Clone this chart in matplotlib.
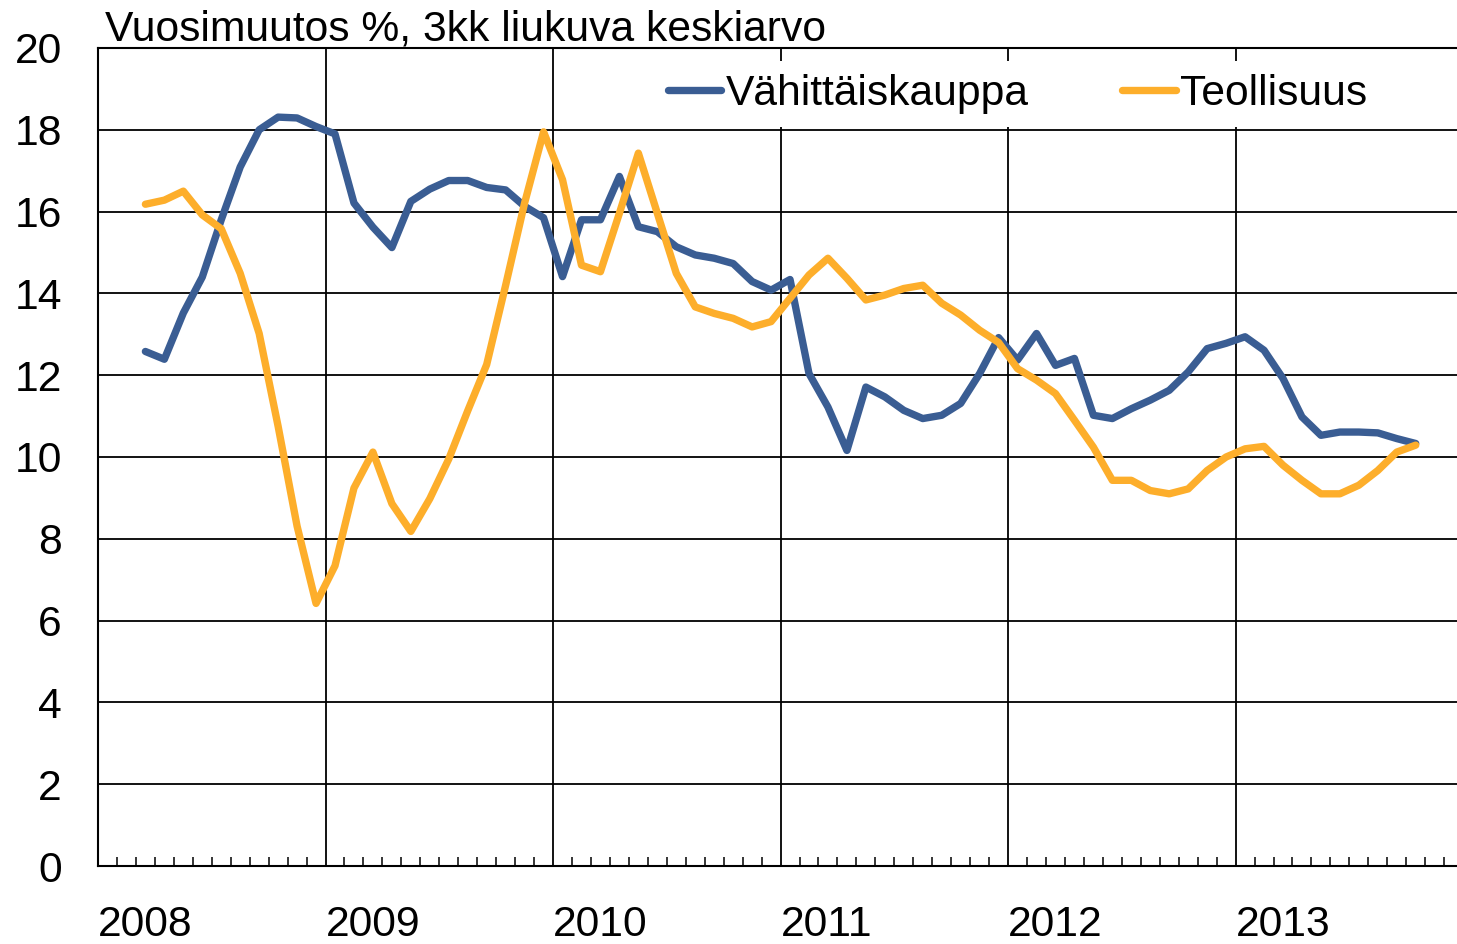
import matplotlib
matplotlib.use("Agg")
import matplotlib.pyplot as plt
import pandas as pd

plt.rcParams['font.family'] = ['Liberation Sans', 'DejaVu Sans']

# monthly 3-month moving average, Mar 2008 - Oct 2013
months = pd.period_range('2008-03', '2013-10', freq='M')

vahittaiskauppa = [
    12.58, 12.39, 13.52, 14.40, 15.80, 17.09, 18.00, 18.31, 18.29, 18.08,
    17.90, 16.21, 15.62, 15.12, 16.25, 16.55, 16.76, 16.76, 16.59, 16.53,
    16.13, 15.85, 14.41, 15.80, 15.80, 16.86, 15.63, 15.51, 15.14, 14.94,
    14.86, 14.73, 14.29, 14.08, 14.34, 12.04, 11.22, 10.16, 11.71, 11.47,
    11.14, 10.94, 11.02, 11.31, 12.04, 12.92, 12.37, 13.02, 12.24, 12.41,
    11.02, 10.94, 11.18, 11.39, 11.63, 12.08, 12.65, 12.78, 12.94, 12.61,
    11.92, 10.98, 10.53, 10.61, 10.61, 10.59, 10.45, 10.33,
]
teollisuus = [
    16.18, 16.28, 16.50, 15.92, 15.58, 14.49, 13.02, 10.75, 8.31, 6.42,
    7.34, 9.24, 10.12, 8.86, 8.18, 8.98, 9.95, 11.13, 12.26, 14.20,
    16.21, 17.95, 16.78, 14.69, 14.53, 15.96, 17.43, 15.96, 14.49, 13.67,
    13.51, 13.39, 13.18, 13.31, 13.88, 14.45, 14.86, 14.37, 13.84, 13.96,
    14.12, 14.20, 13.76, 13.47, 13.10, 12.80, 12.16, 11.88, 11.55, 10.90,
    10.24, 9.43, 9.43, 9.18, 9.10, 9.22, 9.67, 10.00, 10.20, 10.26,
    9.80, 9.43, 9.10, 9.10, 9.31, 9.67, 10.12, 10.29,
]
years = [2008, 2009, 2010, 2011, 2012, 2013]
y_ticks = list(range(0, 21, 2))

# x position: months since Jan 2008, centred in the month
x = [(p.year - 2008) * 12 + p.month - 1 + 0.5 for p in months]

fs = 30.7
blue = '#3A5D93'
orange = '#FDAE2B'

fig = plt.figure(figsize=(14.57, 9.44), dpi=100)
ax = fig.add_axes([98 / 1457, 78 / 944, 1359 / 1457, 818 / 944])

ax.plot(x, vahittaiskauppa, color=blue, lw=5.3, label='Vähittäiskauppa',
        solid_joinstyle='round', solid_capstyle='round', zorder=3)
ax.plot(x, teollisuus, color=orange, lw=5.3, label='Teollisuus',
        solid_joinstyle='round', solid_capstyle='round', zorder=3)

ax.set_xlim(0, 1359 / 18.96)
ax.set_ylim(0, 20)

# year gridlines + left aligned labels
year_pos = [(y - 2008) * 12 for y in years]
ax.set_xticks(year_pos)
ax.set_xticklabels([str(y) for y in years], ha='left', fontsize=fs)
ax.set_xticks([m for m in range(1, 72) if m % 12 != 0], minor=True)
ax.tick_params(axis='x', which='major', length=0, pad=28)
ax.tick_params(axis='x', which='minor', direction='in', length=6.5,
               width=1.1, color='black')

ax.set_yticks(y_ticks)
ax.set_yticklabels([str(v) for v in y_ticks], fontsize=fs)
ax.tick_params(axis='y', length=0, pad=26)

ax.grid(True, which='major', color='black', lw=1.3, zorder=1)
ax.set_axisbelow(True)
ax.spines['right'].set_visible(False)
for side in ['left', 'bottom', 'top']:
    ax.spines[side].set_linewidth(1.5)
    ax.spines[side].set_color('black')

leg = ax.legend(loc='center left', bbox_to_anchor=(0.41, 0.944), ncol=2,
                fontsize=fs, frameon=True, fancybox=False, framealpha=1,
                edgecolor='none', facecolor='white', borderpad=0.3,
                borderaxespad=0, handlelength=1.25, handletextpad=0.1,
                columnspacing=2.2)

fig.text(105 / 1457, 1 - 41 / 944, 'Vuosimuutos %, 3kk liukuva keskiarvo',
         fontsize=fs, ha='left', va='baseline')

fig.savefig('out.png', dpi=100)
